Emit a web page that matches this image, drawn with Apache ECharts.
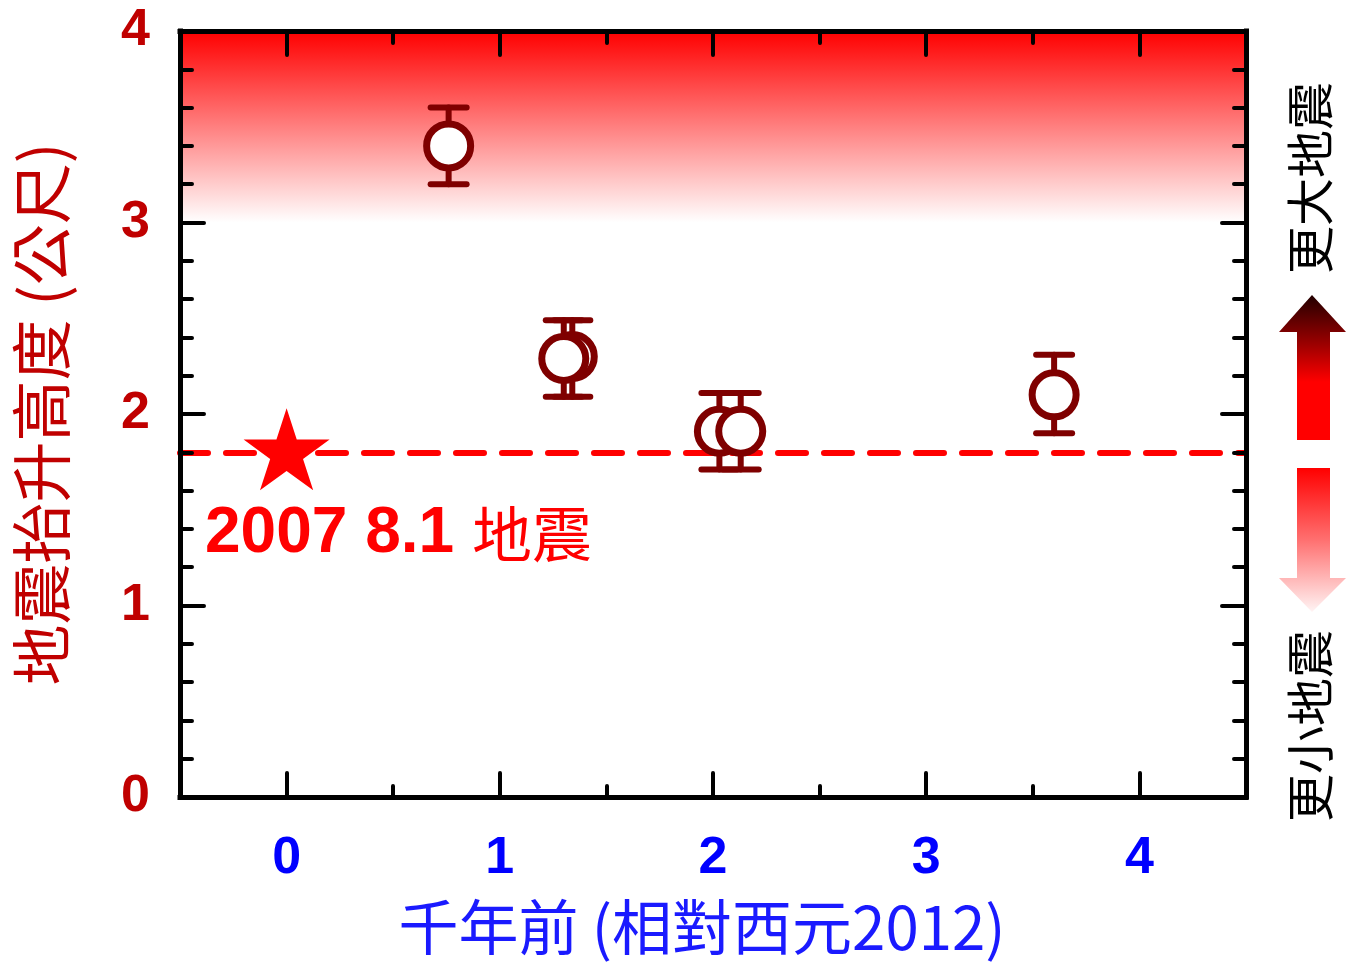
<!DOCTYPE html>
<html><head><meta charset="utf-8">
<script src="https://cdn.jsdelivr.net/npm/echarts@6/dist/echarts.min.js"></script>
<style>html,body{margin:0;padding:0;background:#fff}#c{width:1355px;height:962px}</style>
</head><body><div id="c"></div>
<script>
// ---- data ----
const xMajorTicks = [0, 1, 2, 3, 4];
const xMinorTicks = [0.5, 1.5, 2.5, 3.5];
const xRange = [-0.5, 4.5];
const yRange = [0, 4];
const ptX = [0.76, 1.34, 1.30, 2.03, 2.13, 3.60];
const ptY = [3.40, 2.30, 2.29, 1.91, 1.91, 2.10];
const errLow = [3.20, 2.09, 2.09, 1.71, 1.71, 1.90];
const errHigh = [3.60, 2.49, 2.49, 2.11, 2.11, 2.31];
const quakeX = [0];
const quakeY = [1.8];
const refLevel = 1.8;
const shadeBand = [3, 4];
const quakeLabel = ['2007 8.1 ', '地震'];
const xName = '千年前 (相對西元2012)';
const yName = '地震抬升高度 (公尺)';
const upText = '更大地震';
const downText = '更小地震';

const chart = echarts.init(document.getElementById('c'), null, {renderer: 'canvas'});
const DARK = '#7F0000';
const tickStyle = {color: '#000', width: 4, cap: 'round'};
const starPath = 'path://M100 0 L122.45 69.1 L195.1 69.1 L136.33 111.8 L158.8 180.9 L100 138.2 L41.2 180.9 L63.67 111.8 L4.9 69.1 L77.55 69.1 Z';
const CJK = '"Noto Sans CJK TC", "Noto Sans CJK SC", sans-serif';
const axisLineStyle = {show: true, onZero: false, lineStyle: {color: '#000', width: 5, cap: 'square'}};

const gridBox = {left: 180, right: 109, top: 31, bottom: 164};

const option = {
  backgroundColor: '#fff',
  animation: false,
  grid: [Object.assign({}, gridBox), Object.assign({}, gridBox)],
  xAxis: [
    {gridIndex: 0, type: 'value', position: 'bottom', min: xRange[0], max: xRange[1], z: 10,
     axisLine: axisLineStyle,
     axisTick: {show: true, inside: true, length: 24, customValues: xMajorTicks, lineStyle: tickStyle},
     axisLabel: {show: true, customValues: xMajorTicks, color: '#0000FF', fontSize: 52, fontWeight: 'bold',
                 fontFamily: '"Liberation Sans", Arial, sans-serif', margin: 36},
     splitLine: {show: false},
     name: xName, nameLocation: 'middle', nameGap: 100,
     nameTextStyle: {color: '#1A1AFF', fontSize: 60, fontFamily: CJK, padding: [0, 22, 0, 0]}},
    {gridIndex: 0, type: 'value', position: 'top', min: xRange[0], max: xRange[1], z: 10,
     axisLine: axisLineStyle,
     axisTick: {show: true, inside: true, length: 24, customValues: xMajorTicks, lineStyle: tickStyle},
     axisLabel: {show: false}, splitLine: {show: false}},
    {gridIndex: 1, type: 'value', position: 'bottom', min: xRange[0], max: xRange[1], z: 10,
     axisLine: {show: false, onZero: false},
     axisTick: {show: true, inside: true, length: 12, customValues: xMinorTicks, lineStyle: tickStyle},
     axisLabel: {show: false}, splitLine: {show: false}},
    {gridIndex: 1, type: 'value', position: 'top', min: xRange[0], max: xRange[1], z: 10,
     axisLine: {show: false, onZero: false},
     axisTick: {show: true, inside: true, length: 12, customValues: xMinorTicks, lineStyle: tickStyle},
     axisLabel: {show: false}, splitLine: {show: false}}
  ],
  yAxis: [
    {gridIndex: 0, type: 'value', position: 'left', min: yRange[0], max: yRange[1], interval: 1, z: 10,
     axisLine: axisLineStyle,
     axisTick: {show: true, inside: true, length: 24, lineStyle: tickStyle},
     minorTick: {show: true, splitNumber: 5, length: 12, lineStyle: tickStyle},
     axisLabel: {show: true, color: '#C00000', fontSize: 52, fontWeight: 'bold',
                 fontFamily: '"Liberation Sans", Arial, sans-serif', margin: 30},
     splitLine: {show: false},
     name: yName, nameLocation: 'middle', nameGap: 108,
     nameTextStyle: {color: '#C00000', fontSize: 61, fontFamily: CJK}},
    {gridIndex: 0, type: 'value', position: 'right', min: yRange[0], max: yRange[1], interval: 1, z: 10,
     axisLine: axisLineStyle,
     axisTick: {show: true, inside: true, length: 24, lineStyle: tickStyle},
     minorTick: {show: true, splitNumber: 5, length: 12, lineStyle: tickStyle},
     axisLabel: {show: false}, splitLine: {show: false}},
    {gridIndex: 1, type: 'value', min: yRange[0], max: yRange[1], show: false}
  ],
  series: [
    {type: 'line', xAxisIndex: 0, yAxisIndex: 0, data: [], z: 1, silent: true,
     markArea: {silent: true, z: 1,
       itemStyle: {color: new echarts.graphic.LinearGradient(0, 0, 0, 1, [
         {offset: 0, color: '#FF0000'}, {offset: 1, color: '#FFFFFF'}])},
       data: [[{xAxis: xRange[0], yAxis: shadeBand[0]}, {xAxis: xRange[1], yAxis: shadeBand[1]}]]},
     markLine: {silent: true, symbol: ['none', 'none'], label: {show: false}, z: 2,
       lineStyle: {color: '#FF0000', width: 6, type: [28, 18], cap: 'round'},
       data: [{yAxis: refLevel}]}
    },
    {type: 'custom', xAxisIndex: 0, yAxisIndex: 0, z: 4, silent: true,
     data: ptX.map((x, i) => [x, errLow[i], errHigh[i]]),
     encode: {x: 0, y: [1, 2]},
     renderItem: function (params, api) {
       const x = api.value(0), lo = api.value(1), hi = api.value(2);
       const t = api.coord([x, hi]), b = api.coord([x, lo]);
       const hw = 18;
       const st = {stroke: DARK, lineWidth: 6, lineCap: 'round'};
       return {type: 'group', children: [
         {type: 'line', shape: {x1: t[0], y1: t[1], x2: b[0], y2: b[1]}, style: st},
         {type: 'line', shape: {x1: t[0] - hw, y1: t[1], x2: t[0] + hw, y2: t[1]}, style: st},
         {type: 'line', shape: {x1: b[0] - hw, y1: b[1], x2: b[0] + hw, y2: b[1]}, style: st}
       ]};
     }},
    {type: 'scatter', xAxisIndex: 0, yAxisIndex: 0, z: 5, silent: true,
     data: ptX.map((x, i) => [x, ptY[i]]),
     symbol: 'circle', symbolSize: 44,
     itemStyle: {color: '#FFFFFF', borderColor: DARK, borderWidth: 7, opacity: 1}},
    {type: 'scatter', xAxisIndex: 0, yAxisIndex: 0, z: 6, silent: true,
     data: quakeX.map((x, i) => [x, quakeY[i]]),
     symbol: starPath, symbolSize: [86, 82], symbolOffset: [0, -3],
     itemStyle: {color: '#FF0000', opacity: 1}}
  ],
  graphic: [
    {type: 'text', left: 205, top: 502, z: 10, silent: true,
     style: {text: '{a|' + quakeLabel[0] + '}{b|' + quakeLabel[1] + '}',
       rich: {
         a: {fontSize: 64, fontWeight: 'bold', fontFamily: '"Liberation Sans", Arial, sans-serif', fill: '#FF0000'},
         b: {fontSize: 60, fontFamily: CJK, fill: '#FF0000'}
       }}},
    {type: 'text', x: 1310, y: 178, rotation: Math.PI / 2, z: 10, silent: true,
     style: {text: upText, fontSize: 48, fontFamily: CJK, fill: '#000', align: 'center', verticalAlign: 'middle'}},
    {type: 'text', x: 1310, y: 726, rotation: Math.PI / 2, z: 10, silent: true,
     style: {text: downText, fontSize: 48, fontFamily: CJK, fill: '#000', align: 'center', verticalAlign: 'middle'}},
    {type: 'polygon', z: 10, silent: true,
     shape: {points: [[1312, 295], [1346, 332], [1330, 332], [1330, 440], [1297, 440], [1297, 332], [1279, 332]]},
     style: {fill: new echarts.graphic.LinearGradient(0, 0, 0, 1, [
       {offset: 0, color: '#220000'}, {offset: 0.35, color: '#A00000'}, {offset: 0.6, color: '#FF0000'}, {offset: 1, color: '#FF0000'}])}},
    {type: 'polygon', z: 10, silent: true,
     shape: {points: [[1297, 468], [1330, 468], [1330, 578], [1346, 578], [1312, 612], [1279, 578], [1297, 578]]},
     style: {fill: new echarts.graphic.LinearGradient(0, 0, 0, 1, [
       {offset: 0, color: '#FF0000'}, {offset: 0.5, color: '#FF7070'}, {offset: 1, color: '#FFF4F4'}])}}
  ]
};
chart.setOption(option);
</script>
</body></html>
